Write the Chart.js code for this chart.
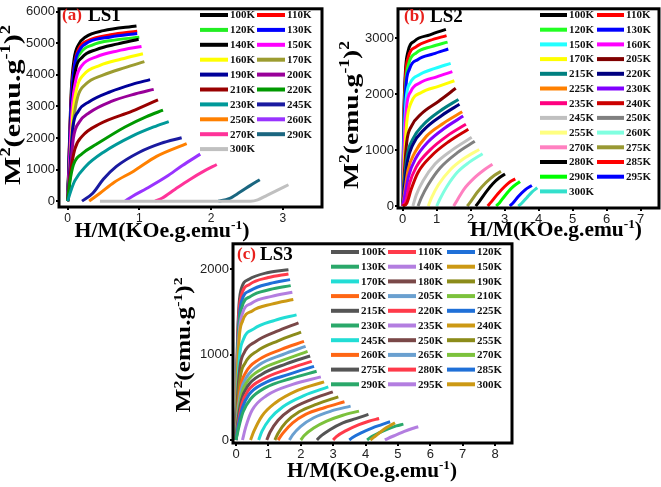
<!DOCTYPE html>
<html>
<head>
<meta charset="utf-8">
<script src="https://cdn.jsdelivr.net/npm/chart.js@4.4.1/dist/chart.umd.min.js"></script>
<style>
  html, body { margin: 0; padding: 0; background: #fff; }
  #wrap { position: relative; width: 661px; height: 487px; overflow: hidden; }
  canvas { position: absolute; }
</style>
</head>
<body>
<div id="wrap">
  <canvas id="cA" width="330" height="245" style="left:0;top:0"></canvas>
  <canvas id="cB" width="331" height="245" style="left:330px;top:0"></canvas>
  <canvas id="cC" width="355" height="252" style="left:160px;top:235px"></canvas>
</div>
<script>
// ---------- LS1 ----------
const ls1Temps = ['100K','110K','120K','130K','140K','150K','160K','170K','190K','200K',
                  '210K','220K','230K','245K','250K','260K','270K','290K','300K'];
const ls1Colors = ['#000000','#ff0000','#22ee22','#0000ff','#000000','#ff00ff','#ffff00','#9c9c30','#000099','#990099',
                   '#990000','#009900','#009999','#1a1aa0','#ff8000','#9933ff','#ff3399','#1a6680','#c0c0c0'];
const ls1Curves = [
  [[0,0],[0.02,1500],[0.05,3500],[0.09,4500],[0.15,4950],[0.25,5200],[0.5,5400],[0.96,5550]],
  [[0,0],[0.02,1400],[0.05,3300],[0.1,4400],[0.16,4850],[0.3,5100],[0.6,5270],[0.97,5385]],
  [[0,0],[0.02,1300],[0.06,3300],[0.1,4250],[0.18,4700],[0.35,4950],[0.65,5100],[1.0,5190]],
  [[0,0],[0.02,1350],[0.05,3200],[0.1,4350],[0.17,4800],[0.3,5050],[0.6,5200],[0.97,5310]],
  [[0,0],[0.02,1200],[0.06,3100],[0.11,4150],[0.2,4550],[0.4,4800],[0.7,4980],[0.99,5130]],
  [[0,0],[0.02,1000],[0.06,2900],[0.12,3900],[0.2,4300],[0.4,4570],[0.7,4760],[1.03,4900]],
  [[0,0],[0.03,1000],[0.07,2700],[0.13,3600],[0.22,4000],[0.45,4300],[0.75,4500],[1.05,4670]],
  [[0,0],[0.03,900],[0.08,2500],[0.14,3300],[0.25,3700],[0.5,4000],[0.8,4230],[1.07,4420]],
  [[0,0],[0.03,1000],[0.07,2300],[0.15,2850],[0.3,3150],[0.6,3470],[0.9,3700],[1.15,3850]],
  [[0,0],[0.03,800],[0.08,2000],[0.16,2500],[0.3,2800],[0.6,3150],[0.95,3400],[1.2,3540]],
  [[0,0],[0.04,900],[0.1,1650],[0.2,2050],[0.45,2450],[0.9,2850],[1.26,3210]],
  [[0,0],[0.03,600],[0.08,1150],[0.2,1500],[0.4,1800],[0.8,2350],[1.1,2680],[1.33,2880]],
  [[0,0],[0.04,300],[0.1,650],[0.25,1100],[0.5,1550],[0.9,2060],[1.2,2350],[1.41,2520]],
  [[0.2,0],[0.35,250],[0.5,700],[0.68,1100],[1.0,1550],[1.3,1830],[1.59,2010]],
  [[0.3,0],[0.45,250],[0.65,600],[0.92,950],[1.24,1420],[1.66,1825]],
  [[0.8,0],[0.9,150],[1.1,400],[1.38,780],[1.6,1130],[1.85,1490]],
  [[1.22,0],[1.32,100],[1.5,380],[1.7,680],[1.9,950],[2.08,1160]],
  [[2.1,0],[2.25,80],[2.4,280],[2.55,500],[2.68,680]],
  [[0.45,0],[2.55,0],[2.65,40],[2.78,185],[2.9,320],[3.08,520]]
];
const ls1XTicks = [0, 1, 2, 3];
const ls1YTicks = [0, 1000, 2000, 3000, 4000, 5000, 6000];

// ---------- LS2 ----------
const ls2Temps = ['100K','110K','120K','130K','150K','160K','170K','205K','215K','220K',
                  '225K','230K','235K','240K','245K','250K','255K','260K','270K','275K',
                  '280K','285K','290K','295K','300K'];
const ls2Colors = ['#000000','#ff0000','#22ff22','#0000ff','#22ffff','#ff00ff','#ffff00','#800000','#008080','#000080',
                   '#ff8000','#8000ff','#ff0080','#cc0000','#c0c0c0','#808080','#ffff80','#80ffe0','#ff80c0','#999933',
                   '#000000','#ff0000','#00ff00','#0000ff','#33e0cc'];
const ls2Curves = [
  [[0,0],[0.03,1500],[0.08,2400],[0.15,2750],[0.35,2950],[0.8,3060],[1.27,3158]],
  [[0,0],[0.03,1400],[0.08,2300],[0.16,2650],[0.4,2850],[0.8,2960],[1.29,3047]],
  [[0,0],[0.03,1300],[0.09,2200],[0.18,2550],[0.4,2740],[0.85,2850],[1.32,2930]],
  [[0,0],[0.03,1200],[0.09,2100],[0.2,2450],[0.45,2620],[0.9,2720],[1.34,2807]],
  [[0,0],[0.04,1100],[0.1,1900],[0.22,2200],[0.5,2350],[0.95,2460],[1.41,2550]],
  [[0,0],[0.04,1000],[0.11,1750],[0.24,2050],[0.5,2200],[1.0,2310],[1.46,2404]],
  [[0,0],[0.05,800],[0.12,1500],[0.25,1850],[0.55,2030],[1.05,2140],[1.52,2240]],
  [[0,0],[0.05,600],[0.12,1150],[0.25,1420],[0.55,1650],[1.05,1870],[1.56,2105]],
  [[0,0],[0.05,450],[0.13,900],[0.3,1200],[0.6,1450],[1.1,1700],[1.64,1906]],
  [[0,0],[0.06,400],[0.14,800],[0.3,1100],[0.65,1380],[1.15,1620],[1.67,1819]],
  [[0,0],[0.07,300],[0.16,650],[0.35,950],[0.7,1250],[1.2,1480],[1.75,1684]],
  [[0,0],[0.08,250],[0.18,550],[0.38,850],[0.75,1150],[1.25,1400],[1.78,1608]],
  [[0,0],[0.1,100],[0.2,400],[0.4,700],[0.8,1000],[1.3,1250],[1.86,1462]],
  [[0,0],[0.12,50],[0.25,300],[0.45,600],[0.85,900],[1.35,1150],[1.93,1374]],
  [[0.3,0],[0.4,200],[0.6,450],[0.95,750],[1.45,1000],[2.03,1228]],
  [[0.45,0],[0.55,150],[0.75,380],[1.1,680],[1.6,950],[2.12,1158]],
  [[0.75,0],[0.85,150],[1.05,380],[1.4,650],[1.8,850],[2.25,1012]],
  [[1.0,0],[1.1,130],[1.3,350],[1.6,600],[1.95,780],[2.35,936]],
  [[1.5,0],[1.6,100],[1.8,300],[2.1,500],[2.4,650],[2.64,749]],
  [[1.9,0],[2.0,80],[2.2,250],[2.45,420],[2.7,550],[2.89,620]],
  [[2.15,0],[2.25,80],[2.45,250],[2.65,400],[2.85,510],[3.01,573]],
  [[2.5,0],[2.6,70],[2.8,220],[3.0,350],[3.15,430],[3.31,485]],
  [[2.75,0],[2.85,60],[3.0,180],[3.2,320],[3.45,439]],
  [[3.15,0],[3.25,60],[3.4,170],[3.6,290],[3.8,368]],
  [[3.4,0],[3.5,50],[3.65,150],[3.8,250],[3.96,327]]
];
const ls2XTicks = [0, 1, 2, 3, 4, 5, 6, 7];
const ls2YTicks = [0, 1000, 2000, 3000];

// ---------- LS3 ----------
const ls3Temps = ['100K','110K','120K','130K','140K','150K','170K','180K','190K','200K',
                  '205K','210K','215K','220K','225K','230K','235K','240K','245K','250K',
                  '255K','260K','265K','270K','275K','280K','285K','290K','295K','300K'];
const ls3Palette = ['#555555','#ff3a4a','#1f70d8','#2aa86a','#b37ee0','#cc9914',
                    '#22ddd5','#7a4848','#8c8c1a','#ff6614','#6aa0d0','#7cc23c'];
const ls3Curves = [
  [[0,0],[0.03,900],[0.08,1500],[0.15,1750],[0.4,1880],[1.0,1960],[1.62,1992]],
  [[0,0],[0.03,850],[0.08,1430],[0.16,1680],[0.42,1820],[1.0,1900],[1.62,1942]],
  [[0,0],[0.03,800],[0.09,1380],[0.17,1620],[0.45,1750],[1.05,1830],[1.67,1876]],
  [[0,0],[0.03,750],[0.09,1320],[0.18,1550],[0.45,1680],[1.05,1760],[1.69,1806]],
  [[0,0],[0.03,700],[0.1,1260],[0.19,1470],[0.48,1600],[1.1,1680],[1.74,1728]],
  [[0,0],[0.03,650],[0.1,1200],[0.2,1390],[0.5,1510],[1.1,1590],[1.77,1643]],
  [[0,0],[0.04,500],[0.11,980],[0.22,1170],[0.55,1300],[1.2,1400],[1.87,1464]],
  [[0,0],[0.04,450],[0.12,850],[0.25,1020],[0.6,1150],[1.25,1270],[1.93,1371]],
  [[0,0],[0.05,380],[0.13,730],[0.28,900],[0.65,1040],[1.3,1160],[2.01,1262]],
  [[0,0],[0.05,320],[0.14,620],[0.3,790],[0.7,940],[1.4,1060],[2.10,1153]],
  [[0,0],[0.05,290],[0.15,570],[0.32,730],[0.72,880],[1.45,1000],[2.15,1095]],
  [[0,0],[0.06,260],[0.16,520],[0.34,680],[0.75,820],[1.5,940],[2.21,1037]],
  [[0,0],[0.06,230],[0.17,470],[0.36,630],[0.8,770],[1.55,890],[2.29,983]],
  [[0,0],[0.07,200],[0.18,420],[0.38,580],[0.82,710],[1.6,830],[2.34,920]],
  [[0,0],[0.07,170],[0.2,380],[0.4,530],[0.85,660],[1.65,770],[2.41,862]],
  [[0,0],[0.08,140],[0.22,330],[0.45,480],[0.9,610],[1.7,720],[2.49,804]],
  [[0.2,0],[0.3,150],[0.5,350],[0.95,520],[1.75,650],[2.62,738]],
  [[0.45,0],[0.55,100],[0.8,280],[1.2,430],[1.9,580],[2.72,680]],
  [[0.7,0],[0.8,100],[1.05,250],[1.45,390],[2.1,520],[2.85,621]],
  [[0.95,0],[1.05,90],[1.3,230],[1.7,360],[2.3,470],[2.99,563]],
  [[1.2,0],[1.3,80],[1.55,210],[1.95,330],[2.5,420],[3.16,505]],
  [[1.3,0],[1.45,80],[1.75,200],[2.15,300],[2.75,380],[3.35,447]],
  [[1.65,0],[1.75,60],[2.0,160],[2.4,260],[2.95,340],[3.54,396]],
  [[2.0,0],[2.1,50],[2.4,140],[2.8,220],[3.3,290],[3.80,338]],
  [[2.5,0],[2.6,40],[2.9,120],[3.3,200],[3.7,250],[4.09,299]],
  [[3.0,0],[3.1,40],[3.4,110],[3.8,180],[4.1,220],[4.42,252]],
  [[3.5,0],[3.6,30],[3.9,90],[4.2,140],[4.5,180],[4.76,214]],
  [[4.05,0],[4.15,30],[4.4,80],[4.7,130],[4.95,165],[5.17,186]],
  [[4.6,0],[4.7,20],[4.95,60],[5.2,100],[5.45,135],[5.63,155]],
  [[4.15,0],[4.25,30],[4.45,90],[4.65,145],[4.91,202]]
];
const ls3XTicks = [0, 1, 2, 3, 4, 5, 6, 7, 8];
const ls3YTicks = [0, 1000, 2000];

const serif = '"Liberation Serif", "DejaVu Serif", serif';
// axis titles as [text, superscript?] pieces
const yTitle = [['M', 0], ['2', 1], ['(emu.g', 0], ['-1', 1], [')', 0], ['2', 1]];
const xTitle = [['H/M(KOe.g.emu', 0], ['-1', 1], [')', 0]];

// draws a title with raised small pieces, centred at 0,0, stretched to len
function richText(ctx, parts, size, len) {
  const big = 'bold ' + size + 'px ' + serif;
  const small = 'bold ' + Math.round(size * 0.62) + 'px ' + serif;
  let total = 0;
  const widths = parts.map(p => {
    ctx.font = p[1] ? small : big;
    const w = ctx.measureText(p[0]).width;
    total += w;
    return w;
  });
  ctx.scale(len / total, 1);
  let x = -total / 2;
  ctx.textAlign = 'left';
  parts.forEach((p, i) => {
    ctx.font = p[1] ? small : big;
    ctx.fillText(p[0], x, p[1] ? -size * 0.32 : 0);
    x += widths[i];
  });
}

// frame, panel label, axis titles and legend
const decor = {
  id: 'decor',
  afterDraw(chart, args, o) {
    const ctx = chart.ctx;
    const a = chart.chartArea;
    ctx.save();
    ctx.strokeStyle = '#000';
    ctx.lineWidth = 3;
    ctx.strokeRect(a.left, a.top, a.right - a.left, a.bottom - a.top);

    ctx.textBaseline = 'middle';
    ctx.textAlign = 'left';
    ctx.font = 'bold 17px ' + serif;
    ctx.fillStyle = '#e8201c';
    ctx.fillText(o.tag, o.tagX, o.tagY);
    ctx.font = 'bold 19px ' + serif;
    ctx.fillStyle = '#000';
    ctx.fillText(o.name, o.nameX, o.tagY);

    ctx.save();
    ctx.translate(o.xT[0], o.xT[1]);
    richText(ctx, xTitle, o.xFont, o.xT[2]);
    ctx.restore();

    ctx.save();
    ctx.translate(o.yT[0], o.yT[1]);
    ctx.rotate(-Math.PI / 2);
    richText(ctx, yTitle, o.yFont, o.yT[2]);
    ctx.restore();

    // legend
    ctx.font = 'bold 11px ' + serif;
    ctx.textAlign = 'left';
    ctx.lineWidth = 4;
    const ncol = o.cols.length;
    chart.data.datasets.forEach((ds, i) => {
      const cx = o.cols[i % ncol];
      const cy = o.rowY + Math.floor(i / ncol) * o.rowDy;
      ctx.strokeStyle = ds.borderColor;
      ctx.beginPath();
      ctx.moveTo(cx, cy);
      ctx.lineTo(cx + o.lineLen, cy);
      ctx.stroke();
      ctx.fillStyle = '#111';
      ctx.fillText(ds.label, cx + o.lineLen + 2, cy + 0.5);
    });
    ctx.restore();
  }
};

function makeDatasets(temps, curves, colorOf) {
  return curves.map((c, i) => ({
    label: temps[i],
    data: c.map(p => ({ x: p[0], y: p[1] })),
    borderColor: colorOf(i),
    borderWidth: 3,
    pointRadius: 0,
    showLine: true,
    cubicInterpolationMode: 'monotone',
    order: curves.length - i
  }));
}

function axis(min, max, tickVals, fit, fontSize, isY) {
  return {
    type: 'linear',
    min: min,
    max: max,
    afterBuildTicks: s => { s.ticks = tickVals.map(v => ({ value: v })); },
    afterFit: s => { if (isY) s.width = fit; else s.height = fit; },
    border: { display: false },
    grid: { drawOnChartArea: false, drawTicks: true, tickLength: 3, color: '#000', lineWidth: 2 },
    ticks: {
      padding: 1,
      color: '#222',
      autoSkip: false,
      maxRotation: 0,
      callback: v => String(v),
      font: { family: '"Liberation Sans", Arial, sans-serif', size: fontSize }
    }
  };
}

function plotPanel(id, datasets, scales, pad, deco) {
  new Chart(document.getElementById(id).getContext('2d'), {
    type: 'scatter',
    data: { datasets: datasets },
    plugins: [decor],
    options: {
      responsive: false,
      animation: false,
      layout: { padding: pad },
      scales: scales,
      plugins: { legend: { display: false }, tooltip: { enabled: false }, decor: deco }
    }
  });
}

plotPanel('cA',
  makeDatasets(ls1Temps, ls1Curves, i => ls1Colors[i]),
  { x: axis(-0.121, 3.548, ls1XTicks, 38, 12, false), y: axis(-185, 6092, ls1YTicks, 59, 13, true) },
  { left: 0, top: 3, right: 8, bottom: 0 },
  { tag: '(a)', tagX: 62, name: 'LS1', nameX: 88, tagY: 16,
    xFont: 21, xT: [162, 232, 175], yFont: 23, yT: [14, 105, 160],
    cols: [200, 257], lineLen: 28, rowY: 15, rowDy: 14.9 });

plotPanel('cB',
  makeDatasets(ls2Temps, ls2Curves, i => ls2Colors[i]),
  { x: axis(-0.138, 7.538, ls2XTicks, 37, 13, false), y: axis(-35, 3526, ls2YTicks, 68, 13, true) },
  { left: 0, top: 5, right: 2, bottom: 0 },
  { tag: '(b)', tagX: 74, name: 'LS2', nameX: 100, tagY: 17,
    xFont: 21, xT: [226, 231, 172], yFont: 22, yT: [22, 115, 148],
    cols: [210, 267], lineLen: 27, rowY: 15, rowDy: 14.7 });

plotPanel('cC',
  makeDatasets(ls3Temps, ls3Curves, i => ls3Palette[i % ls3Palette.length]),
  { x: axis(-0.093, 8.525, ls3XTicks, 44, 13, false), y: axis(-35, 2295, ls3YTicks, 73, 13, true) },
  { left: 0, top: 8, right: 3, bottom: 0 },
  { tag: '(c)', tagX: 77, name: 'LS3', nameX: 100, tagY: 20,
    xFont: 21, xT: [212, 237, 170], yFont: 21, yT: [25, 110, 135],
    cols: [171, 228, 287], lineLen: 28, rowY: 17, rowDy: 14.7 });
</script>
</body>
</html>
